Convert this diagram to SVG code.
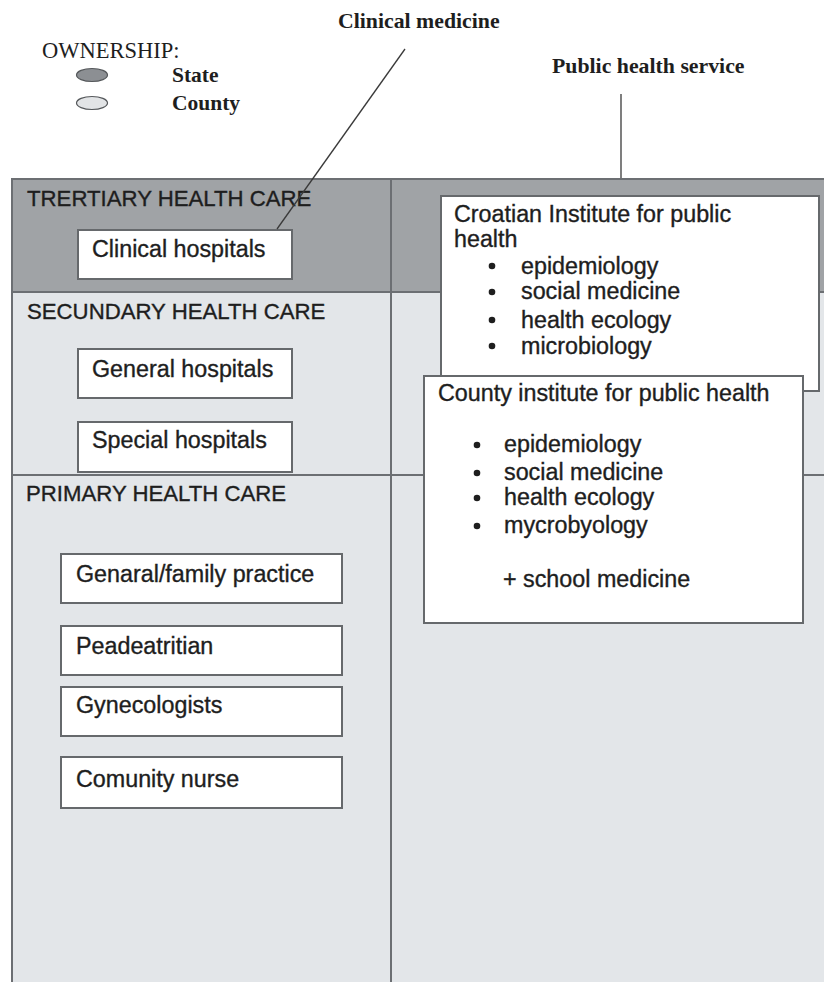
<svg xmlns="http://www.w3.org/2000/svg" width="824" height="982" viewBox="0 0 824 982">
  <style>
    .serif { font-family: "Liberation Serif", "Times New Roman", serif; fill: #1e1e1e; }
    .sans { font-family: "Liberation Sans", Arial, sans-serif; fill: #1e1e1e; stroke: #1e1e1e; stroke-width: 0.35px; }
    .head { font-size: 22.2px; }
    .lbl { font-size: 23.3px; }
    .box { fill: #ffffff; stroke: #66696c; stroke-width: 2; }
    .rule { stroke: #6c6f73; stroke-width: 2; fill: none; }
    .dot { fill: #1e1e1e; }
    .wire { stroke: #3a3a3a; stroke-width: 1.3; fill: none; }
  </style>

  <rect width="824" height="982" fill="#ffffff"/>

  <!-- legend -->
  <g id="legend">
    <text class="serif" x="42" y="58" font-size="22.5">OWNERSHIP:</text>
    <ellipse cx="92" cy="75" rx="15.5" ry="6.5" fill="#8c8f93" stroke="#55585b" stroke-width="1.2"/>
    <text class="serif" x="172" y="82" font-size="21.5" font-weight="bold">State</text>
    <ellipse cx="92" cy="103" rx="15.5" ry="6.5" fill="#e2e4e6" stroke="#55585b" stroke-width="1.2"/>
    <text class="serif" x="172" y="110" font-size="21.5" font-weight="bold">County</text>
  </g>

  <!-- column titles -->
  <g id="title-clinical">
    <text class="serif" x="338" y="28" font-size="21.8" font-weight="bold">Clinical medicine</text>
  </g>
  <g id="title-public">
    <text class="serif" x="552" y="73" font-size="21.8" font-weight="bold">Public health service</text>
  </g>

  <!-- level bands -->
  <g id="bands">
    <rect x="12" y="179" width="820" height="113" fill="#a0a3a6"/>
    <rect x="12" y="292" width="820" height="695" fill="#e3e6e9"/>
    <line class="rule" x1="12" y1="179" x2="830" y2="179"/>
    <line class="rule" x1="12" y1="292" x2="830" y2="292"/>
    <line class="rule" x1="12" y1="475" x2="830" y2="475"/>
    <line class="rule" x1="12" y1="178" x2="12" y2="990"/>
    <line class="rule" x1="391" y1="178" x2="391" y2="990"/>
  </g>

  <g id="tertiary">
    <text class="sans head" x="27" y="206">TRERTIARY HEALTH CARE</text>
  </g>
  <g id="secondary">
    <text class="sans head" x="27" y="319">SECUNDARY HEALTH CARE</text>
  </g>
  <g id="primary">
    <text class="sans head" x="26" y="501">PRIMARY HEALTH CARE</text>
  </g>

  <g id="clinical-hospitals">
    <rect class="box" x="78" y="230" width="214" height="49"/>
    <text class="sans lbl" x="92" y="257">Clinical hospitals</text>
  </g>
  <g id="general-hospitals">
    <rect class="box" x="78" y="349" width="214" height="49"/>
    <text class="sans lbl" x="92" y="377">General hospitals</text>
  </g>
  <g id="special-hospitals">
    <rect class="box" x="78" y="422" width="214" height="50"/>
    <text class="sans lbl" x="92" y="448">Special hospitals</text>
  </g>

  <g id="family-practice">
    <rect class="box" x="61" y="554" width="281" height="49"/>
    <text class="sans lbl" x="76" y="582">Genaral/family practice</text>
  </g>
  <g id="paediatrician">
    <rect class="box" x="61" y="626" width="281" height="49"/>
    <text class="sans lbl" x="76" y="654">Peadeatritian</text>
  </g>
  <g id="gynecologists">
    <rect class="box" x="61" y="687" width="281" height="49"/>
    <text class="sans lbl" x="76" y="713">Gynecologists</text>
  </g>
  <g id="community-nurse">
    <rect class="box" x="61" y="757" width="281" height="51"/>
    <text class="sans lbl" x="76" y="787">Comunity nurse</text>
  </g>

  <g id="croatian-institute">
    <rect class="box" x="441" y="196" width="378" height="195"/>
    <text class="sans lbl" x="454" y="222">Croatian Institute for public</text>
    <text class="sans lbl" x="454" y="247">health</text>
    <circle class="dot" cx="492" cy="266" r="3.3"/>
    <text class="sans lbl" x="521" y="274">epidemiology</text>
    <circle class="dot" cx="492" cy="292" r="3.3"/>
    <text class="sans lbl" x="521" y="299">social medicine</text>
    <circle class="dot" cx="492" cy="320" r="3.3"/>
    <text class="sans lbl" x="521" y="328">health ecology</text>
    <circle class="dot" cx="492" cy="346" r="3.3"/>
    <text class="sans lbl" x="521" y="354">microbiology</text>
  </g>

  <g id="county-institute">
    <rect class="box" x="424" y="376" width="379" height="247"/>
    <text class="sans lbl" x="438" y="401">County institute for public health</text>
    <circle class="dot" cx="477" cy="445" r="3.3"/>
    <text class="sans lbl" x="504" y="452">epidemiology</text>
    <circle class="dot" cx="477" cy="473" r="3.3"/>
    <text class="sans lbl" x="504" y="480">social medicine</text>
    <circle class="dot" cx="477" cy="498" r="3.3"/>
    <text class="sans lbl" x="504" y="505">health ecology</text>
    <circle class="dot" cx="477" cy="526" r="3.3"/>
    <text class="sans lbl" x="504" y="533">mycrobyology</text>
    <text class="sans lbl" x="503" y="587">+ school medicine</text>
  </g>

  <!-- pointer lines from the column titles -->
  <g id="connectors">
    <line class="wire" x1="405" y1="49" x2="277" y2="229"/>
    <line class="wire" x1="621" y1="94" x2="621" y2="178"/>
  </g>
</svg>
